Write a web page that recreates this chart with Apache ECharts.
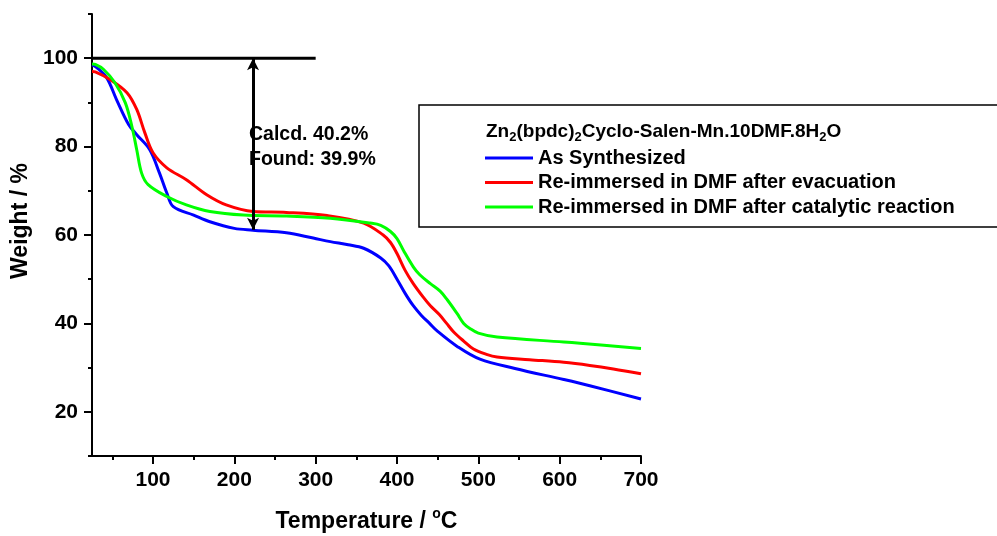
<!DOCTYPE html>
<html><head><meta charset="utf-8">
<script src="https://cdn.jsdelivr.net/npm/echarts@6/dist/echarts.min.js"></script>
<style>html,body{margin:0;padding:0;background:#fff}#c{width:997px;height:536px}</style>
</head><body><div id="c"></div>
<script>
const seriesNames = ['As Synthesized', 'Re-immersed in DMF after evacuation', 'Re-immersed in DMF after catalytic reaction'];
const seriesColors = ['#0000ff', '#ff0000', '#00ff00'];
const asSynthesized = [[25,98.5],[30,98],[43,95.6],[55,90.7],[70,85],[80,82.7],[96,79.3],[108,74],[117,69.5],[125,66.4],[150,64.5],[170,63],[200,61.5],[223,61.1],[264,60.5],[297,59.3],[318,58.5],[340,57.8],[359,57],[380,54.8],[390,53],[400,50],[410,46.8],[420,44],[430,41.8],[440,40],[450,38.2],[474,34.8],[502,31.9],[545,29.8],[605,27.3],[637,25.9],[700,22.9]];
const evacuated = [[25,97],[29,96.9],[47,95.2],[68,92.2],[80,88.4],[90,83.1],[100,78.6],[117,75.2],[141,72.5],[166,69.1],[190,66.8],[223,65.3],[264,65.1],[314,64.4],[359,62.7],[383,60],[392,58.3],[400,55.8],[410,52],[420,49],[432,46],[441,44],[452,42],[461,40],[470,38],[482,36],[494,34.2],[510,33],[523,32.4],[563,31.8],[605,31.2],[637,30.5],[666,29.7],[700,28.6]];
const afterCatalysis = [[25,98.7],[29,98.6],[39,97.5],[53,94.5],[66,89.9],[74,84.6],[80,79.3],[86,74],[94,71.4],[117,68.7],[141,66.8],[170,65.3],[211,64.5],[264,64.3],[318,63.8],[367,62.7],[380,62.2],[392,60.8],[400,59.2],[408,56.5],[420,52.8],[428,51],[441,49],[453,47.3],[462,45.3],[474,42.2],[482,40],[490,38.8],[500,37.8],[523,36.9],[605,35.8],[625,35.5],[700,34.3]];
const seriesData = [asSynthesized, evacuated, afterCatalysis];
const refLine = [[25,100],[300,100]];
const arrowX = 223, arrowTop = 100, arrowBottom = 61.2;
const xMajorTicks = [100,200,300,400,500,600,700];
const xMinorTicks = [50,150,250,350,450,550,650];
const yMajorTicks = [20,40,60,80,100];
const yMinorTicks = [10,30,50,70,90,110];
const annotationText = 'Calcd. 40.2%\nFound: 39.9%';
const legendTitle = '{b|Zn}{s|2}{b|(bpdc)}{s|2}{b|Cyclo-Salen-Mn.10DMF.8H}{s|2}{b|O}';

const FONT = '"Liberation Sans", Arial, sans-serif';
const chart = echarts.init(document.getElementById('c'), null, {renderer:'canvas'});
const series = seriesNames.map((n,i)=>({
  name:n, type:'line', data:seriesData[i], smooth:0.35, symbol:'none',
  lineStyle:{color:seriesColors[i], width:3}, itemStyle:{color:seriesColors[i]},
  z:3, animation:false
}));
series.push({
  name:'ref', type:'line', data:refLine, symbol:'none',
  lineStyle:{color:'#000', width:3}, animation:false, z:4, silent:true,
  markLine:{
    silent:true, animation:false, symbol:['arrow','arrow'], symbolSize:[9,12],
    lineStyle:{color:'#000', width:3, type:'solid'}, label:{show:false},
    data:[[{coord:[arrowX, arrowTop]},{coord:[arrowX, arrowBottom]}]]
  }
});
chart.setOption({
  backgroundColor:'#fff',
  animation:false,
  grid:{left:92, right:356, top:14, bottom:80, containLabel:false, outerBoundsMode:'none'},
  xAxis:[{
    type:'value', min:25, max:700, position:'bottom',
    axisLine:{show:true, onZero:false, lineStyle:{color:'#000', width:2}},
    axisTick:{show:true, customValues:xMajorTicks, length:8, lineStyle:{color:'#000', width:2}},
    axisLabel:{customValues:xMajorTicks, margin:14, color:'#000', fontFamily:FONT, fontWeight:'bold', fontSize:21},
    splitLine:{show:false},
    name:'Temperature / {sup|o}C', nameLocation:'middle', nameGap:51,
    nameTextStyle:{color:'#000', fontFamily:FONT, fontWeight:'bold', fontSize:23,
      rich:{sup:{fontSize:14, fontFamily:FONT, fontWeight:'bold', color:'#000', verticalAlign:'top', lineHeight:30}}}
  },{
    type:'value', min:25, max:700, position:'bottom',
    axisLine:{show:false},
    axisTick:{show:true, customValues:xMinorTicks, length:4, lineStyle:{color:'#000', width:2}},
    axisLabel:{show:false}, splitLine:{show:false}
  }],
  yAxis:[{
    type:'value', min:10, max:110, position:'left',
    axisLine:{show:true, onZero:false, lineStyle:{color:'#000', width:2}},
    axisTick:{show:true, customValues:yMajorTicks, length:8, lineStyle:{color:'#000', width:2}},
    axisLabel:{customValues:yMajorTicks, margin:14, color:'#000', fontFamily:FONT, fontWeight:'bold', fontSize:21},
    splitLine:{show:false}
  },{
    type:'value', min:10, max:110, position:'left',
    axisLine:{show:false},
    axisTick:{show:true, customValues:yMinorTicks, length:4, lineStyle:{color:'#000', width:2}},
    axisLabel:{show:false}, splitLine:{show:false}
  }],
  legend:{
    data:seriesNames, orient:'vertical', left:485, top:147, icon:'rect',
    itemWidth:48, itemHeight:3, itemGap:2.5, padding:0,
    textStyle:{color:'#000', fontFamily:FONT, fontWeight:'bold', fontSize:20, lineHeight:22},
    selectedMode:false, z:10
  },
  graphic:[
    {type:'rect', shape:{x:419, y:105, width:600, height:122}, style:{fill:'#fff', stroke:'#000', lineWidth:1.5}, z:5, silent:true},
    {type:'text', x:486, y:132, z:11, silent:true, style:{text:legendTitle, textVerticalAlign:'middle', textAlign:'left',
      rich:{b:{fontSize:19, fontFamily:FONT, fontWeight:'bold', fill:'#000', lineHeight:24},
            s:{fontSize:13, fontFamily:FONT, fontWeight:'bold', fill:'#000', lineHeight:14, verticalAlign:'bottom'}}}},
    {type:'text', x:249, y:122, z:12, silent:true, style:{text:annotationText, fontSize:19.5, fontFamily:FONT, fontWeight:'bold', fill:'#000', lineHeight:25}},
    {type:'text', x:21, y:221, rotation:Math.PI/2, z:12, silent:true, style:{text:'Weight / %', textAlign:'center', textVerticalAlign:'middle', fontSize:23, fontFamily:FONT, fontWeight:'bold', fill:'#000'}}
  ],
  series:series
});
</script></body></html>
